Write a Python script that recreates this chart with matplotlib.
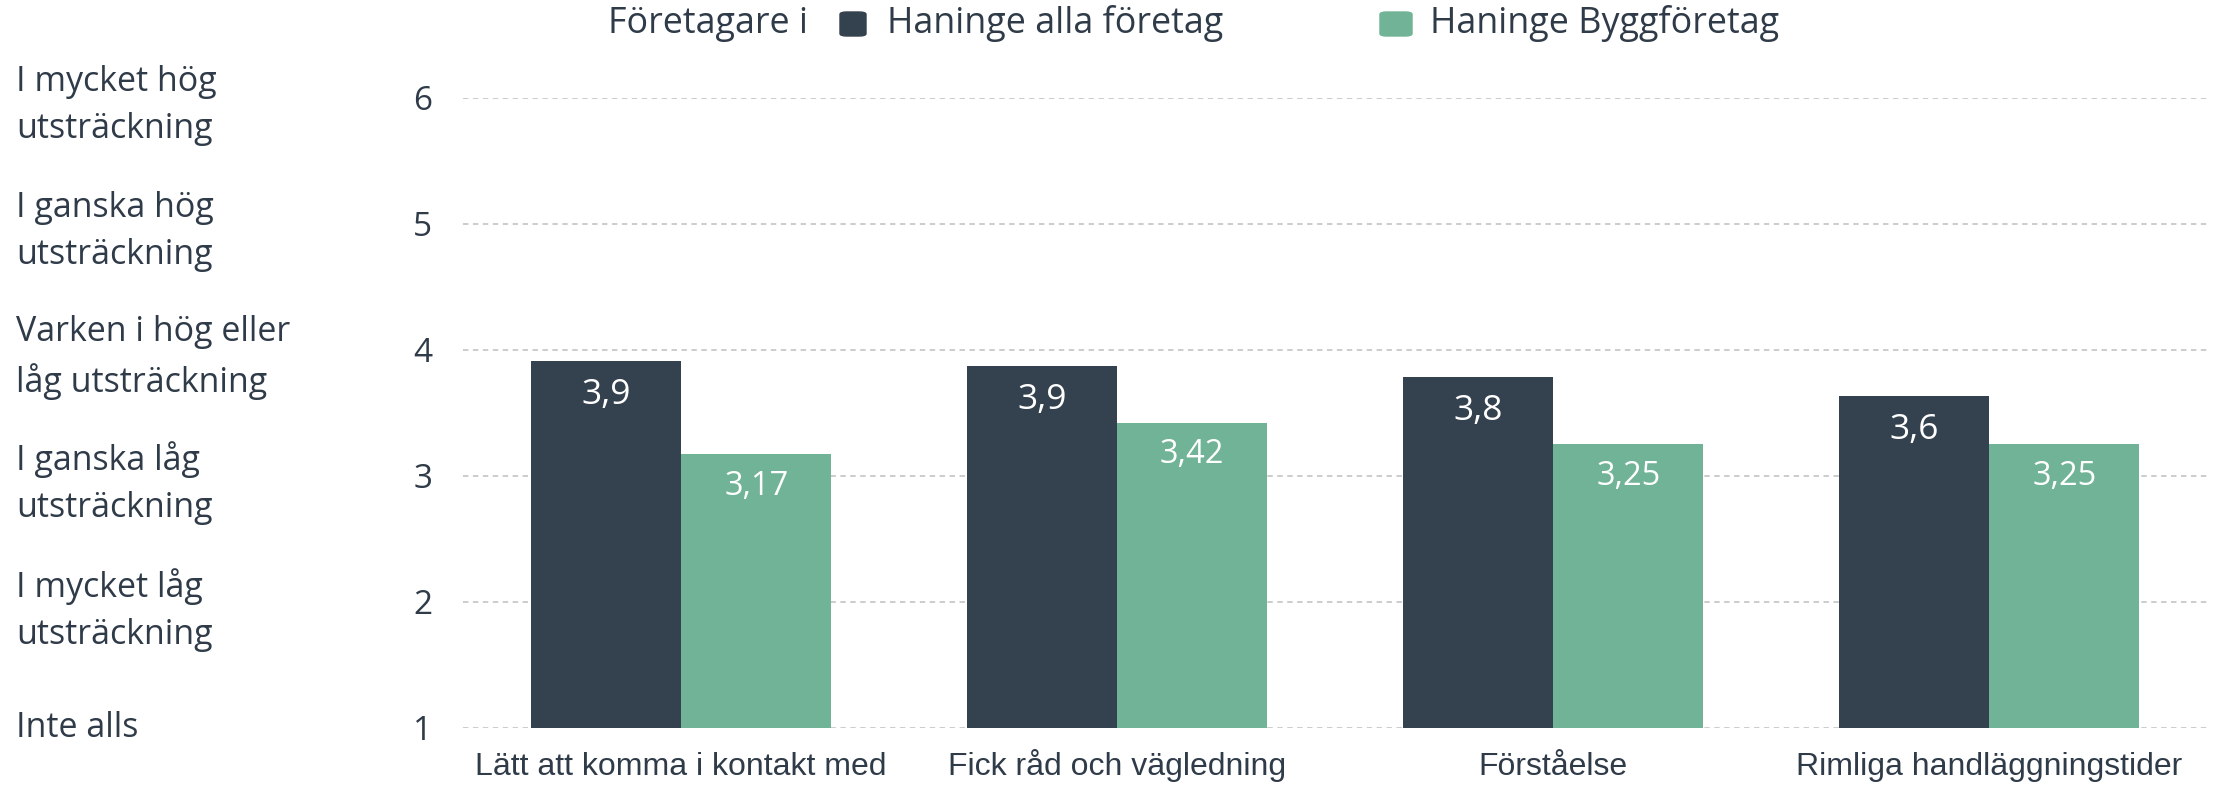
import matplotlib
matplotlib.use("Agg")
import matplotlib.pyplot as plt
from matplotlib.patches import FancyBboxPatch
import matplotlib.transforms as mtransforms
import numpy as np

categories = ["Lätt att komma i kontakt med", "Fick råd och vägledning",
              "Förståelse", "Rimliga handläggningstider"]
series_names = ["Haninge alla företag", "Haninge Byggföretag"]
alla = [3.91, 3.87, 3.78, 3.63]
alla_labels = ["3,9", "3,9", "3,8", "3,6"]
bygg = [3.17, 3.42, 3.25, 3.25]
bygg_labels = ["3,17", "3,42", "3,25", "3,25"]
y_ticks = [1, 2, 3, 4, 5, 6]
y_names = ["Inte alls", "I mycket låg\nutsträckning", "I ganska låg\nutsträckning",
           "Varken i hög eller\nlåg utsträckning", "I ganska hög\nutsträckning",
           "I mycket hög\nutsträckning"]
legend_title = "Företagare i"

DARK = "#34414e"
GREEN = "#70b396"
TXT = "#2f3b48"
FONT = "Open Sans"
W, H = 2216, 785

fig = plt.figure(figsize=(W / 100, H / 100), dpi=100)
ax = fig.add_axes([463 / W, 1 - 728 / H, (2207 - 463) / W, (728 - 97.5) / H])

x = np.arange(len(categories))
bw = 0.345
ax.bar(x - bw / 2, alla, width=bw, color=DARK, zorder=2)
ax.bar(x + bw / 2, bygg, width=bw, color=GREEN, zorder=2)

for xi, v, lab in zip(x, alla, alla_labels):
    ax.annotate(lab, (xi - bw / 2, v), xytext=(0, -24.5), textcoords="offset points",
                ha="center", va="center", color="white", fontsize=25.5, family=FONT, zorder=3)
for xi, v, lab in zip(x, bygg, bygg_labels):
    ax.annotate(lab, (xi + bw / 2, v), xytext=(0, -23), textcoords="offset points",
                ha="center", va="center", color="white", fontsize=23.5, family=FONT, zorder=3)

ax.set_xlim(-0.5, len(categories) - 0.5)
ax.set_ylim(1, 6)
ax.set_yticks(y_ticks)
ax.set_yticklabels([str(t) for t in y_ticks], family=FONT, fontsize=24, color=TXT)
ax.set_xticks(x)
ax.set_xticklabels(categories, family="Liberation Sans", fontsize=23, color=TXT, va="baseline")
ax.tick_params(axis="y", length=0, pad=22)
ax.tick_params(axis="x", length=0, pad=33.8)
ax.grid(axis="y", color="#c8c8c8", linestyle=(0, (3, 2.5)), linewidth=1.3, zorder=0)
ax.set_axisbelow(True)
for s in ax.spines.values():
    s.set_visible(False)

trans = mtransforms.blended_transform_factory(fig.transFigure, ax.transData)
for t, name in zip(y_ticks, y_names):
    dy = -5.6 if "\n" in name else 0
    ax.annotate(name, (16 / W, t), xycoords=trans, xytext=(0, dy), textcoords="offset points",
                ha="left", va="center", family=FONT, fontsize=24.5, color=TXT,
                linespacing=1.5, annotation_clip=False)

# legend
ly = 1 - 24 / H
fig.text(608 / W, ly, legend_title, ha="left", va="center", family=FONT, fontsize=25.8, color=TXT)
for (x0, x1, col), name, tx in zip([(840, 866, DARK), (1380, 1412, GREEN)], series_names, [887, 1430]):
    fig.patches.append(FancyBboxPatch((x0 / W, (H - 36) / H), (x1 - x0) / W, 24 / H,
                                      boxstyle="round,pad=0,rounding_size=0.003",
                                      transform=fig.transFigure, color=col, figure=fig))
    fig.text(tx / W, ly, name, ha="left", va="center", family=FONT, fontsize=25.8, color=TXT)

fig.savefig("out.png", dpi=100)
